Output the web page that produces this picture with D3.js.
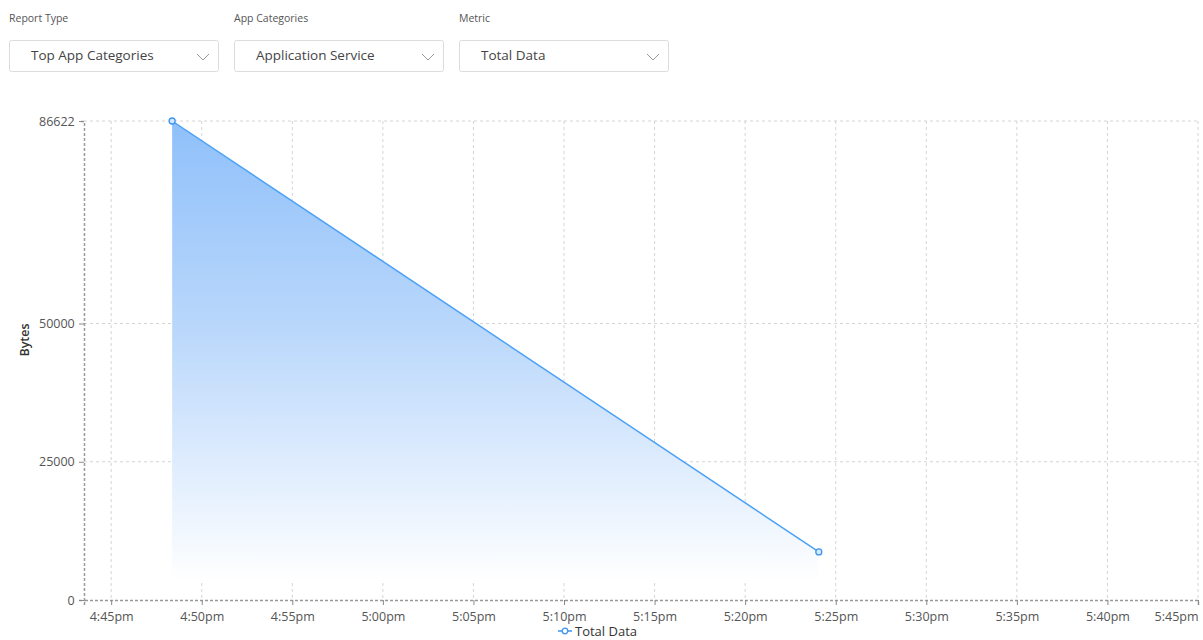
<!DOCTYPE html>
<html>
<head>
<meta charset="utf-8">
<script src="https://cdn.jsdelivr.net/npm/d3@7"></script>
<style>
  body { margin: 0; background: #fff; font-family: "Open Sans", "Noto Sans", sans-serif; }
  svg { display: block; }
</style>
</head>
<body>
<svg width="1203" height="640"></svg>
<script>
// Filters shown above the chart
let filterLabels = ["Report Type", "App Categories", "Metric"];
let filterValues = ["Top App Categories", "Application Service", "Total Data"];

// Series
let times = ["2020-01-01T16:48:22", "2020-01-01T17:24:04"];
let values = [86622, 8700];
let yTicks = [0, 25000, 50000, 86622];
let seriesName = "Total Data";

let parse = d3.isoParse;
let data = times.map((t, i) => ({ t: parse(t), v: values[i] }));

let svg = d3.select("svg");

// Dropdowns
let filters = svg.append("g");
filterLabels.forEach((lab, i) => {
  let gx = 9 + i * 225;
  let g = filters.append("g").attr("transform", `translate(${gx},0)`);
  g.append("text").attr("x", 0).attr("y", 22)
    .attr("font-size", 10.5).attr("fill", "#555").text(lab);
  g.append("rect").attr("x", 0.5).attr("y", 40.5).attr("width", 209).attr("height", 31)
    .attr("rx", 2).attr("fill", "#fff").attr("stroke", "#dcdcdc");
  g.append("text").attr("x", 22).attr("y", 60)
    .attr("font-size", 13.5).attr("fill", "#444").text(filterValues[i]);
  g.append("path").attr("d", "M188,54 L194,60 L200,54")
    .attr("fill", "none").attr("stroke", "#999").attr("stroke-width", 1);
});

// Chart area
let margin = { left: 84, top: 121 };
let plotBottom = 600;
let plotRight = 1198;

let x = d3.scaleTime()
  .domain([parse("2020-01-01T16:43:30"), parse("2020-01-01T17:45:00")])
  .range([margin.left, plotRight]);
let y = d3.scaleLinear()
  .domain([0, 86622])
  .range([plotBottom, margin.top]);

let xTicks = d3.timeMinute.every(5).range(parse("2020-01-01T16:45:00"), parse("2020-01-01T17:45:01"));

// Gradient for area
let defs = svg.append("defs");
let grad = defs.append("linearGradient").attr("id", "fillGrad")
  .attr("gradientUnits", "userSpaceOnUse")
  .attr("x1", 0).attr("y1", margin.top).attr("x2", 0).attr("y2", 582);
grad.append("stop").attr("offset", "0%").attr("stop-color", "#8fc0fa").attr("stop-opacity", 1);
grad.append("stop").attr("offset", "45%").attr("stop-color", "#b9d7fb").attr("stop-opacity", 1);
grad.append("stop").attr("offset", "100%").attr("stop-color", "#ffffff").attr("stop-opacity", 1);

// Grid
let grid = svg.append("g");
grid.selectAll(".vg").data(xTicks).enter().append("line")
  .attr("x1", d => x(d)).attr("x2", d => x(d))
  .attr("y1", margin.top).attr("y2", plotBottom)
  .attr("stroke", "#d4d4d4").attr("stroke-dasharray", "3,3");
grid.selectAll(".hg").data(yTicks.filter(d => d > 0)).enter().append("line")
  .attr("x1", margin.left).attr("x2", plotRight)
  .attr("y1", d => y(d)).attr("y2", d => y(d))
  .attr("stroke", "#d4d4d4").attr("stroke-dasharray", "3,3");

// Area + line
svg.append("path").datum(data)
  .attr("d", d3.area().x(d => x(d.t)).y0(582).y1(d => y(d.v)))
  .attr("fill", "url(#fillGrad)");
svg.append("path").datum(data)
  .attr("d", d3.line().x(d => x(d.t)).y(d => y(d.v)))
  .attr("fill", "none").attr("stroke", "#4aa0f5").attr("stroke-width", 1.5);
svg.selectAll(".pt").data(data).enter().append("circle")
  .attr("cx", d => x(d.t)).attr("cy", d => y(d.v)).attr("r", 3)
  .attr("fill", "#d8e9fd").attr("stroke", "#3d95f2").attr("stroke-width", 1.3);

// Axes
let xAxis = svg.append("g").attr("transform", `translate(0,${plotBottom})`)
  .call(d3.axisBottom(x).tickValues(xTicks).tickSize(5).tickFormat(d3.timeFormat("%-I:%M%p")));
xAxis.selectAll("text").text(function () { return this.textContent.toLowerCase(); });
xAxis.selectAll(".tick").filter((d, i, n) => i === n.length - 1)
  .select("text").attr("text-anchor", "end");
let yAxis = svg.append("g").attr("transform", `translate(${margin.left},0)`)
  .call(d3.axisLeft(y).tickValues(yTicks).tickSize(5).tickFormat(d3.format("d")));

[xAxis, yAxis].forEach(a => {
  a.select(".domain").attr("stroke", "#999").attr("stroke-width", 1.5).attr("stroke-dasharray", "3,2");
  a.selectAll(".tick line").attr("stroke", "#888");
  a.selectAll("text").attr("fill", "#555").attr("font-size", 12.5)
    .attr("font-family", "\"Open Sans\", sans-serif");
});
xAxis.selectAll("text").attr("dy", "1.05em");
yAxis.selectAll("text").attr("dx", "-0.1em");

// Y label
svg.append("text")
  .attr("transform", "translate(29,340) rotate(-90)")
  .attr("text-anchor", "middle").attr("font-size", 12.5).attr("font-weight", 600)
  .attr("fill", "#333").text("Bytes");

// Legend
let legend = svg.append("g").attr("transform", "translate(558,631)");
legend.append("line").attr("x1", 0).attr("x2", 14).attr("y1", 0).attr("y2", 0)
  .attr("stroke", "#3d95f2").attr("stroke-width", 1.5);
legend.append("circle").attr("cx", 7).attr("cy", 0).attr("r", 2.8)
  .attr("fill", "#fff").attr("stroke", "#3d95f2").attr("stroke-width", 1.3);
legend.append("text").attr("x", 17).attr("y", 4.5)
  .attr("font-size", 13).attr("fill", "#333").text(seriesName);
</script>
</body>
</html>
